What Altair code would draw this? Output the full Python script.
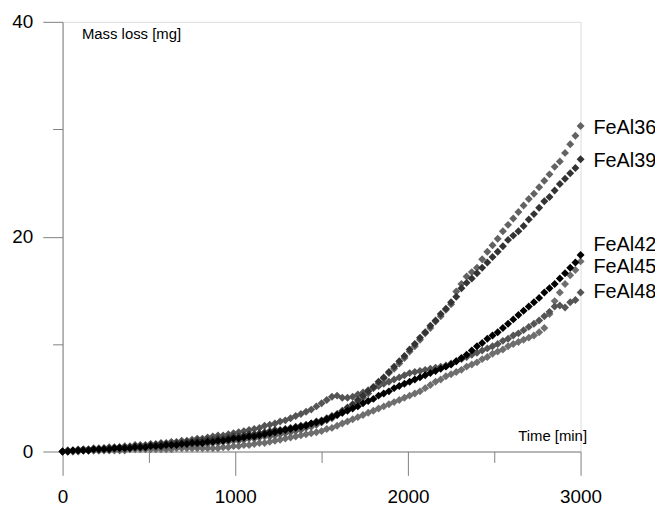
import altair as alt
import pandas as pd

time_min = [30 * i for i in range(101)]

feal36 = [0.0,0.0,0.0,0.1,0.1,0.1,0.1,0.1,0.2,0.2,
          0.2,0.2,0.2,0.3,0.3,0.3,0.3,0.4,0.4,0.4,
          0.4,0.5,0.5,0.5,0.6,0.6,0.6,0.7,0.7,0.8,
          0.8,0.9,0.9,1.0,1.0,1.1,1.2,1.2,1.3,1.4,
          1.4,1.5,1.6,1.7,1.8,1.9,2.0,2.2,2.3,2.5,
          2.7,2.9,3.1,3.4,3.6,3.9,4.2,4.6,5.0,5.4,
          5.9,6.3,6.8,7.3,7.7,8.2,8.7,9.3,9.8,10.4,
          11.0,11.5,12.1,12.6,13.2,13.7,14.9,15.6,16.3,16.7,
          17.1,17.9,18.6,19.2,19.8,20.5,21.1,21.7,22.3,22.9,
          23.5,24.0,24.6,25.2,25.8,26.5,27.0,27.8,28.6,29.4,
          30.3]

feal39 = [0.0,0.1,0.1,0.1,0.2,0.2,0.2,0.2,0.3,0.3,
          0.3,0.4,0.4,0.4,0.5,0.5,0.5,0.6,0.6,0.7,
          0.7,0.7,0.8,0.8,0.9,0.9,1.0,1.0,1.1,1.1,
          1.2,1.2,1.3,1.4,1.4,1.5,1.6,1.6,1.7,1.8,
          1.9,2.0,2.0,2.1,2.2,2.3,2.4,2.5,2.6,2.8,
          2.9,3.1,3.3,3.5,3.8,4.1,4.4,4.8,5.2,5.6,
          6.0,6.5,6.9,7.4,7.9,8.4,8.9,9.5,10.0,10.6,
          11.1,11.7,12.2,12.8,13.3,13.9,14.4,15.2,15.7,16.1,
          16.6,17.1,17.6,18.1,18.6,19.1,19.7,20.1,20.5,21.0,
          21.6,22.1,22.7,23.3,23.7,24.3,24.9,25.4,25.9,26.4,
          27.2]

feal42 = [0.0,0.0,0.1,0.1,0.1,0.1,0.2,0.2,0.2,0.2,
          0.3,0.3,0.3,0.3,0.4,0.4,0.4,0.5,0.5,0.5,
          0.6,0.6,0.6,0.7,0.7,0.8,0.8,0.8,0.9,0.9,
          1.0,1.0,1.1,1.2,1.2,1.3,1.4,1.4,1.5,1.6,
          1.7,1.8,1.9,2.0,2.1,2.2,2.3,2.4,2.6,2.7,
          2.8,3.0,3.2,3.4,3.6,3.8,4.0,4.2,4.5,4.7,
          4.9,5.2,5.4,5.6,5.9,6.1,6.3,6.5,6.7,6.9,
          7.1,7.3,7.5,7.7,7.9,8.1,8.4,8.7,9.0,9.4,
          9.8,10.1,10.5,10.8,11.1,11.5,11.9,12.3,12.7,13.1,
          13.5,13.9,14.3,14.8,15.2,15.6,16.1,16.6,17.1,17.6,
          18.3]

feal45 = [0.0,0.0,0.0,0.0,0.1,0.1,0.1,0.1,0.1,0.1,
          0.1,0.1,0.1,0.2,0.2,0.2,0.2,0.2,0.2,0.2,
          0.2,0.2,0.3,0.3,0.3,0.3,0.3,0.3,0.3,0.3,
          0.3,0.4,0.4,0.5,0.5,0.6,0.6,0.7,0.8,0.8,
          0.9,1.0,1.1,1.2,1.3,1.4,1.5,1.6,1.7,1.8,
          1.9,2.1,2.2,2.4,2.6,2.8,3.0,3.2,3.4,3.6,
          3.8,4.0,4.2,4.4,4.6,4.8,5.0,5.2,5.4,5.6,
          5.9,6.2,6.5,6.7,7.0,7.2,7.4,7.6,7.9,8.1,
          8.3,8.6,8.8,9.1,9.3,9.5,9.8,10.0,10.2,10.4,
          10.6,10.8,11.1,11.5,12.8,14.0,14.8,15.6,16.4,16.9,
          17.7]

feal48 = [0.0,0.1,0.1,0.2,0.2,0.2,0.3,0.3,0.3,0.4,
          0.4,0.4,0.5,0.5,0.6,0.6,0.6,0.7,0.7,0.8,
          0.8,0.9,0.9,1.0,1.0,1.1,1.2,1.2,1.3,1.4,
          1.5,1.5,1.6,1.7,1.8,1.9,2.0,2.1,2.2,2.4,
          2.5,2.6,2.8,2.9,3.1,3.3,3.5,3.7,3.9,4.2,
          4.5,4.8,5.1,5.2,5.0,5.0,5.1,5.3,5.5,5.7,
          5.9,6.1,6.3,6.5,6.7,6.9,7.1,7.3,7.4,7.5,
          7.6,7.7,7.8,7.9,8.0,8.2,8.4,8.6,8.8,9.0,
          9.2,9.4,9.6,9.8,10.0,10.3,10.5,10.8,11.0,11.3,
          11.6,11.9,12.2,12.6,13.0,13.5,13.6,13.4,13.9,14.1,
          14.8]

series_names = ["FeAl45", "FeAl48", "FeAl36", "FeAl39", "FeAl42"]
series_values = [feal45, feal48, feal36, feal39, feal42]
series_colors = ["#6e6e6e", "#545454", "#626262", "#333333", "#000000"]

label_names = ["FeAl36", "FeAl39", "FeAl42", "FeAl45", "FeAl48"]
label_y = [30.1, 27.05, 19.2, 17.2, 14.8]
label_x = [3000, 3000, 3000, 3000, 3000]

rows = []
for order, (name, vals) in enumerate(zip(series_names, series_values)):
    for t, v in zip(time_min, vals):
        rows.append({"Time": t, "Mass": v, "Series": name, "order": order})
df = pd.DataFrame(rows)

labels_df = pd.DataFrame({"Time": label_x, "Mass": label_y, "Series": label_names})

FONT = "Liberation Sans"

x_axis = alt.Axis(
    values=list(range(0, 3001, 500)),
    format="d",
    labelExpr="datum.value % 1000 == 0 ? datum.label : ''",
    tickSize=24,
    tickDash={"condition": {"test": "datum.value % 1000 != 0", "value": [11, 40]}, "value": [40, 0]},
    labelPadding=12,
    labelFontSize=19,
    labelFont=FONT,
    labelColor="#000000",
    labelOverlap=False,
    domainColor="#808080",
    tickColor="#808080",
    grid=False,
    title="Time [min]",
    titleFont=FONT,
    titleFontSize=15,
    titleFontWeight="normal",
    titleColor="#000000",
    titleAnchor="end",
    titleAlign="right",
    titleBaseline="middle",
    titleX=528,
    titleY=-16,
    labelFlush=False,
)

y_axis = alt.Axis(
    values=[0, 10, 20, 30, 40],
    format="d",
    labelExpr="datum.value % 20 == 0 ? datum.label : ''",
    tickSize=20,
    tickDash={"condition": {"test": "datum.value % 20 != 0", "value": [10, 40]}, "value": [40, 0]},
    labelPadding=10,
    labelFontSize=19,
    labelFont=FONT,
    labelColor="#000000",
    labelOverlap=False,
    domainColor="#808080",
    tickColor="#808080",
    grid=False,
    title="Mass loss [mg]",
    titleFont=FONT,
    titleFontSize=15,
    titleFontWeight="normal",
    titleColor="#000000",
    titleAngle=0,
    titleAlign="left",
    titleBaseline="middle",
    titleX=19,
    titleY=12,
    labelFlush=False,
)

x_enc = alt.X("Time:Q", scale=alt.Scale(domain=[0, 3000], nice=False), axis=x_axis)
y_enc = alt.Y("Mass:Q", scale=alt.Scale(domain=[0, 40], nice=False), axis=y_axis)

points = alt.Chart(df).mark_point(shape="diamond", filled=True, size=64, opacity=1).encode(
    x=x_enc,
    y=y_enc,
    color=alt.Color("Series:N", scale=alt.Scale(domain=series_names, range=series_colors), legend=None),
    order=alt.Order("order:Q"),
)

texts = alt.Chart(labels_df).mark_text(
    align="left", baseline="middle", dx=13, fontSize=20, font=FONT, color="#000000"
).encode(
    x=x_enc,
    y=y_enc,
    text="Series:N",
)

chart = alt.layer(points, texts).properties(
    width=522,
    height=433,
    autosize=alt.AutoSizeParams(type="none"),
    padding={"left": 55, "top": 12, "right": 75, "bottom": 57},
).configure_view(strokeWidth=0, stroke="transparent").configure(background="white")

chart.save("out.html", embed_options={"renderer": "svg", "actions": False})
